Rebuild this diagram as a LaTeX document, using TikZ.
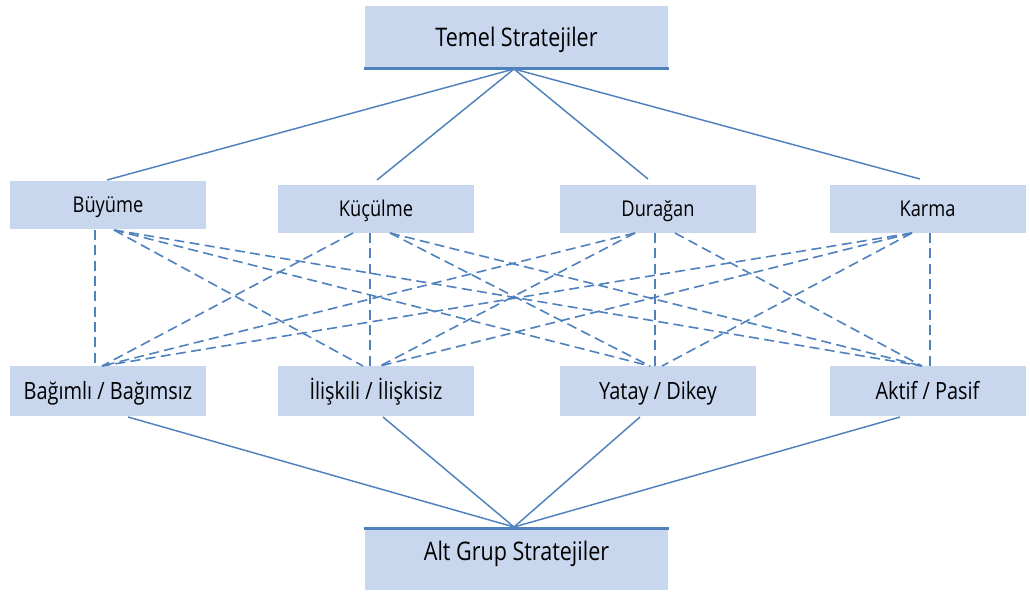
\documentclass[tikz,border=0pt]{standalone}
\usepackage{fontspec}
\setmainfont[FakeStretch=0.84]{Open Sans}
\definecolor{boxfill}{HTML}{C8D6EE}
\definecolor{linkblue}{HTML}{4F81BD}
\begin{document}
\begin{tikzpicture}[x=0.75pt,y=-0.75pt,
  box/.style={fill=boxfill,draw=none,inner sep=0pt,text=black,text depth=0pt},
  midbox/.style={box,minimum width=147pt,minimum height=36pt,text height=11.6pt,font=\fontsize{16.3}{18}\selectfont},
  lowbox/.style={box,minimum width=147pt,minimum height=37.5pt,text height=12.7pt,font=\fontsize{17.8}{20}\selectfont},
  bigbox/.style={box,minimum width=227pt,minimum height=47pt},
  bigfont/.style={font=\fontsize{19.2}{22}\selectfont,text=black,text height=13.7pt,text depth=0pt},
  solidlink/.style={draw=linkblue,line width=1.1pt},
  dashlink/.style={draw=linkblue,line width=1.2pt,dash pattern=on 7.5pt off 4pt},
  rule/.style={draw=linkblue,line width=2.4pt}]
\useasboundingbox (0,0) rectangle (1030,592);

% top and bottom boxes
\node[bigbox,bigfont] (top) at (516.5,37) {Temel Stratejiler};
\node[bigbox,minimum height=45.75pt] (bot) at (516.5,559.5) {};
\node[bigfont,inner sep=0pt] (botlabel) at (516.5,551.5) {Alt Grup Stratejiler};
\draw[rule] ([xshift=-1pt]top.south west) -- ([xshift=1pt]top.south east);
\draw[rule] ([xshift=-1pt]bot.north west) -- ([xshift=1pt]bot.north east);

% middle row
\node[midbox] (bu) at (108,205) {Büyüme};
\node[midbox] (ku) at (376,209) {Küçülme};
\node[midbox] (du) at (658,209) {Durağan};
\node[midbox] (ka) at (927.5,209) {Karma};

% lower row
\node[lowbox] (ba) at (108,391) {Bağımlı / Bağımsız};
\node[lowbox] (il) at (376,391) {İlişkili / İlişkisiz};
\node[lowbox] (ya) at (658,391) {Yatay / Dikey};
\node[lowbox] (ak) at (927.5,391) {Aktif / Pasif};

% meeting points of the solid links
\coordinate (tapex) at (514,69);
\coordinate (bapex) at (514,527);
\coordinate (bu-in) at (107,180);
\coordinate (ku-in) at (377,180);
\coordinate (du-in) at (648,179);
\coordinate (ka-in) at (920,179);
\coordinate (ba-out) at (128,417);
\coordinate (il-out) at (383,417);
\coordinate (ya-out) at (640,417);
\coordinate (ak-out) at (900,417);

% solid links
\foreach \c in {bu-in,ku-in,du-in,ka-in} \draw[solidlink] (tapex) -- (\c);
\foreach \c in {ba-out,il-out,ya-out,ak-out} \draw[solidlink] (\c) -- (bapex);

% end points of the dashed links
\coordinate (bu-v) at (95,230);
\coordinate (bu-r) at (114,230);
\coordinate (ku-l) at (353,233);
\coordinate (ku-v) at (370,233);
\coordinate (ku-r) at (390,233);
\coordinate (du-l) at (635,233);
\coordinate (du-v) at (655,233);
\coordinate (du-r) at (675,233);
\coordinate (ka-l) at (912,233);
\coordinate (ka-v) at (930,233);
\coordinate (ba-v) at (95,366);
\coordinate (ba-r) at (102,366);
\coordinate (il-l) at (363,366);
\coordinate (il-v) at (370,366);
\coordinate (il-r) at (380,366);
\coordinate (ya-l) at (650,366);
\coordinate (ya-v) at (655,366);
\coordinate (ya-r) at (662,366);
\coordinate (ak-l) at (922,366);
\coordinate (ak-v) at (930,366);

% dashed links
\draw[dashlink] (bu-v) -- (ba-v);
\foreach \c in {il-l,ya-l,ak-l} \draw[dashlink] (bu-r) -- (\c);
\draw[dashlink] (ku-l) -- (ba-r);
\draw[dashlink] (ku-v) -- (il-v);
\foreach \c in {ya-l,ak-l} \draw[dashlink] (ku-r) -- (\c);
\foreach \c in {ba-r,il-r} \draw[dashlink] (du-l) -- (\c);
\draw[dashlink] (du-v) -- (ya-v);
\draw[dashlink] (du-r) -- (ak-l);
\foreach \c in {ba-r,il-r,ya-r} \draw[dashlink] (ka-l) -- (\c);
\draw[dashlink] (ka-v) -- (ak-v);
\end{tikzpicture}
\end{document}
